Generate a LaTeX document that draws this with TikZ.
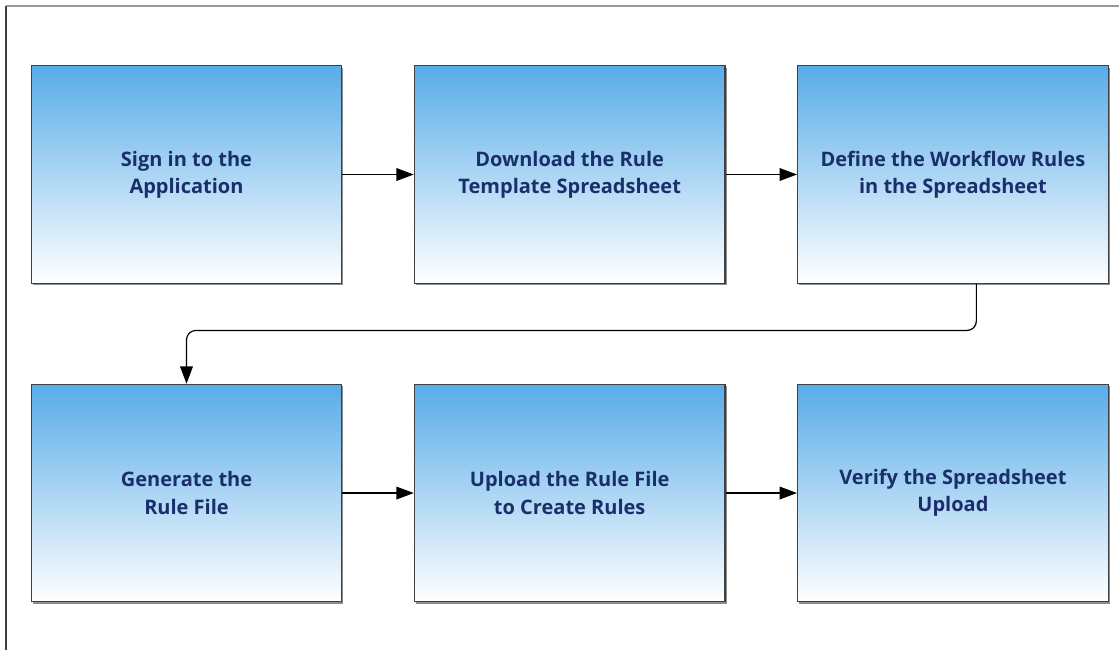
\documentclass[tikz,border=0pt]{standalone}
\usepackage{fontspec}
\setmainfont{Open Sans}
\usetikzlibrary{arrows.meta, positioning, shadows}
\definecolor{boxtop}{RGB}{88,172,232}
\definecolor{boxtext}{RGB}{26,46,108}
\definecolor{boxline}{RGB}{64,64,64}

\begin{document}
\begin{tikzpicture}[x=0.75pt, y=-0.75pt,
        n/.style={draw=boxline, line width=0.9pt, minimum width=233pt, minimum height=163pt,
          top color=boxtop, bottom color=white, text=boxtext, align=center, inner sep=0pt,
          font=\bfseries\fontsize{15}{20.5}\selectfont,
          drop shadow={shadow xshift=1.2pt, shadow yshift=-1.5pt, fill=black!45, opacity=1}},
        e/.style={-{Triangle[length=13pt, width=9.5pt]}, line width=0.9pt},
        node distance=75pt and 53.5pt]
        \useasboundingbox (0,0) rectangle (1119,650);
        \draw[gray!80, line width=2pt] (6,6) -- (1119,6);
        \draw[black!75, line width=1.5pt] (6,6) -- (6,650);

        \node[n] (s1) at (186.5,174.5) {Sign in to the\\Application};
        \node[n, right=of s1] (s2) {Download the Rule\\Template Spreadsheet};
        \node[n, right=of s2] (s3) {Define the Workflow Rules\\in the Spreadsheet};
        \node[n, below=of s1] (s4) {Generate the\\Rule File};
        \node[n, right=of s4] (s5) {Upload the Rule File\\to Create Rules};
        \node[n, right=of s5] (s6) {Verify the Spreadsheet\\Upload};

        \foreach \a/\b in {s1/s2, s2/s3, s4/s5, s5/s6}
        \draw[e] (\a) -- (\b);

        \draw[e, rounded corners=7pt] ([xshift=17.6pt]s3.south) -- ++(0,-35pt) -| (s4.north);
      \end{tikzpicture}
\end{document}
